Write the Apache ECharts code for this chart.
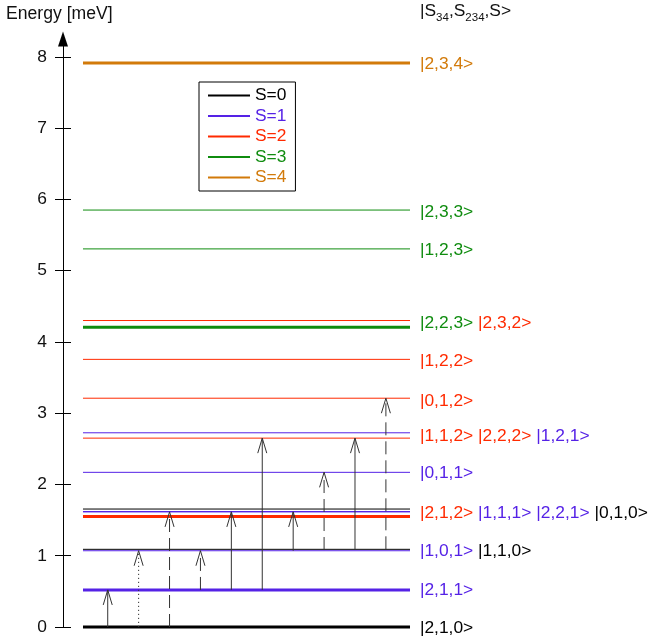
<!DOCTYPE html>
<html><head><meta charset="utf-8">
<script src="https://cdn.jsdelivr.net/npm/echarts@6/dist/echarts.min.js"></script>
<style>html,body{margin:0;padding:0;background:#fff}#c{width:648px;height:638px}</style>
</head><body><div id="c"></div>
<script>
// ---- data ----
const spinNames  = ['S=0', 'S=1', 'S=2', 'S=3', 'S=4'];
const spinColors = ['#000000', '#5522e6', '#ff2a00', '#0f8c0f', '#d27a0a'];
const yTicks = [0, 1, 2, 3, 4, 5, 6, 7, 8];

// energy levels [meV], total spin S, drawn weight
const levelEnergy = [0, 0.52, 1.07, 1.09, 1.55, 1.615, 1.62, 1.655, 2.17, 2.65, 2.725, 3.21, 3.755, 4.205, 4.30, 5.305, 5.85, 7.915];
const levelSpin   = [0, 1,    1,    0,    2,    1,     1,    0,     1,    2,    1,     2,    2,     3,     2,    3,     3,    4];
const levelWeight = [3, 3,    1,    1,    3,    1,     1,    1,     1,    1,    1,     1,    1,     3,     1,    1,     1,    3];

// state labels |S34,S234,S> per row: [text, spin]
const labelEnergy = [-0.02, 0.52, 1.07, 1.60, 2.16, 2.68, 3.165, 3.733, 4.262, 5.285, 5.825, 7.90];
const labelStates = [
  [['|2,1,0>', 0]],
  [['|2,1,1>', 1]],
  [['|1,0,1>', 1], ['|1,1,0>', 0]],
  [['|2,1,2>', 2], ['|1,1,1>', 1], ['|2,2,1>', 1], ['|0,1,0>', 0]],
  [['|0,1,1>', 1]],
  [['|1,1,2>', 2], ['|2,2,2>', 2], ['|1,2,1>', 1]],
  [['|0,1,2>', 2]],
  [['|1,2,2>', 2]],
  [['|2,2,3>', 3], ['|2,3,2>', 2]],
  [['|1,2,3>', 3]],
  [['|2,3,3>', 3]],
  [['|2,3,4>', 4]]
];

// transitions (arrows): from / to energy, line style
const arrowFrom  = [0,       0,        0,        0.52,     0.52,    0.52,    1.07,    1.08,     1.09,    1.09];
const arrowTo    = [0.52,    1.07,     1.615,    1.07,     1.615,   2.65,    1.615,   2.17,     2.65,    3.21];
const arrowStyle = ['solid', 'dotted', 'dashed', 'dashed', 'solid', 'solid', 'solid', 'dashed', 'solid', 'dashed'];

// ---- layout constants ----
const LINE_X0 = -0.80, LINE_X1 = 9.78, LABEL_X = 10.10;
const FONT = '"Liberation Sans", Arial, Helvetica, sans-serif';
const FS = 17.4;

const chart = echarts.init(document.getElementById('c'), null, {renderer: 'canvas'});

const rich = {};
spinColors.forEach((c, i) => { rich['c' + i] = {fill: c, fontSize: FS, fontFamily: FONT}; });

const levelSeries = spinNames.map((name, s) => ({
  name: name,
  type: 'custom',
  itemStyle: {color: spinColors[s]},
  data: levelEnergy.map((e, i) => [e, levelSpin[i], levelWeight[i]]).filter(d => d[1] === s),
  renderItem: function (params, api) {
    const e = api.value(0), w = api.value(2);
    const p0 = api.coord([LINE_X0, e]), p1 = api.coord([LINE_X1, e]);
    return {type: 'line', shape: {x1: p0[0], y1: p0[1], x2: p1[0], y2: p1[1]},
      style: {stroke: spinColors[s], lineWidth: w}};
  },
  silent: true, z: 2
}));

const arrowSeries = {
  type: 'custom',
  data: arrowFrom.map((f, i) => [i, f, arrowTo[i]]),
  renderItem: function (params, api) {
    const x = api.value(0), a = api.value(1), b = api.value(2);
    const p0 = api.coord([x, a]), p1 = api.coord([x, b]);
    const st = arrowStyle[params.dataIndex];
    const dash = st === 'dashed' ? [13, 6] : (st === 'dotted' ? [1.2, 2.8] : null);
    const col = '#333';
    return {type: 'group', children: [
      {type: 'line', shape: {x1: p0[0], y1: p0[1], x2: p1[0], y2: p1[1]},
        style: {stroke: col, lineWidth: 1, lineDash: dash}},
      {type: 'polyline', shape: {points: [[p1[0] - 4.5, p1[1] + 15], [p1[0], p1[1]], [p1[0] + 4.5, p1[1] + 15]]},
        style: {stroke: col, lineWidth: 1, fill: null}}
    ]};
  },
  silent: true, z: 3
};

const labelSeries = {
  type: 'custom',
  data: labelEnergy.map((e, i) => [LABEL_X, e, i]),
  renderItem: function (params, api) {
    const p = api.coord([api.value(0), api.value(1)]);
    const row = labelStates[api.value(2)];
    const txt = row.map(t => '{c' + t[1] + '|' + t[0] + '}').join('{c0| }');
    return {type: 'text', x: p[0], y: p[1],
      style: {text: txt, rich: rich, verticalAlign: 'middle', align: 'left', fontSize: FS, fontFamily: FONT}};
  },
  silent: true, z: 4
};

chart.setOption({
  animation: false,
  backgroundColor: '#fff',
  grid: {left: 63, right: 0, top: 39, bottom: 11},
  xAxis: {type: 'value', min: -1.447, max: 17.48, show: false},
  yAxis: [{
    type: 'value', min: 0, max: 8.25, interval: 1,
    axisLine: {show: true, onZero: false, lineStyle: {color: '#000', width: 1}, symbol: ['none', 'triangle'], symbolSize: [10, 15]},
    axisTick: {show: true, length: 8, inside: false, customValues: yTicks, lineStyle: {color: '#000', width: 1}},
    axisLabel: {show: true, customValues: yTicks, margin: 16, fontSize: FS, color: '#111', fontFamily: FONT},
    splitLine: {show: false}
  }, {
    type: 'value', min: 0, max: 8.25, interval: 1, position: 'left',
    axisLine: {show: false, onZero: false},
    axisTick: {show: true, length: 8, inside: true, customValues: yTicks, lineStyle: {color: '#000', width: 1}},
    axisLabel: {show: false},
    splitLine: {show: false}
  }],
  legend: {
    orient: 'vertical', left: 199, top: 82,
    padding: [5, 9, 5, 9], itemGap: 3.5,
    itemWidth: 42, itemHeight: 2, itemTextGap: 5,
    icon: 'rect', selectedMode: false,
    borderColor: '#000', borderWidth: 1, backgroundColor: '#fff',
    textStyle: {fontSize: FS, fontFamily: FONT},
    data: spinNames.map((n, i) => ({name: n, textStyle: {color: spinColors[i]}}))
  },
  graphic: [
    {type: 'text', left: 6, top: 5, style: {text: 'Energy [meV]', fontSize: 17.6, fontFamily: FONT, fill: '#111'}},
    {type: 'text', left: 420, top: 3, style: {
      text: '{n||S}{s|34}{n|,S}{s|234}{n|,S>}',
      rich: {
        n: {fontSize: FS, fontFamily: FONT, fill: '#111', lineHeight: 24, verticalAlign: 'middle'},
        s: {fontSize: 11.5, fontFamily: FONT, fill: '#111', lineHeight: 24, verticalAlign: 'bottom'}
      }
    }}
  ],
  series: levelSeries.concat([arrowSeries, labelSeries])
});
</script>
</body></html>
